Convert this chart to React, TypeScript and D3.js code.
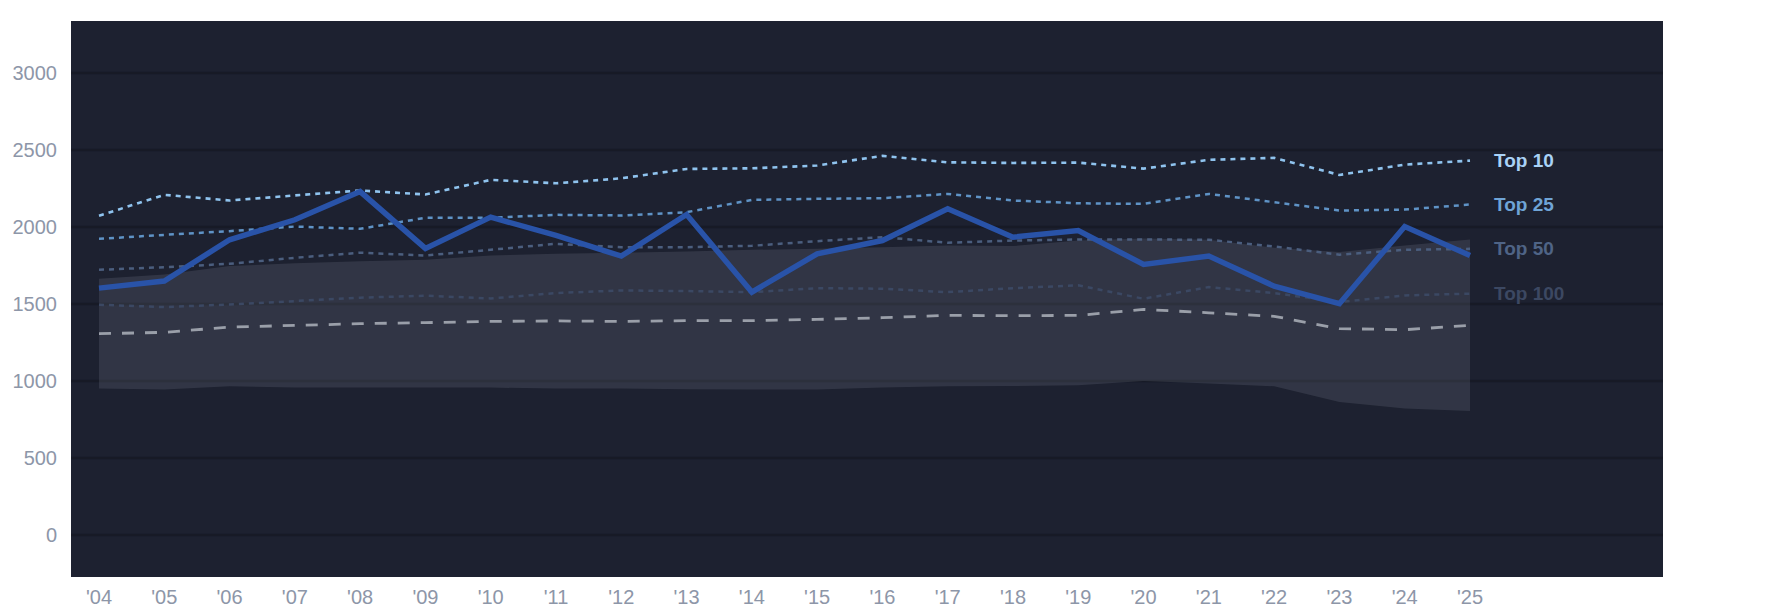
import * as d3 from 'd3'
import { useEffect, useRef } from 'react'

const years = ["'04", "'05", "'06", "'07", "'08", "'09", "'10", "'11", "'12", "'13", "'14", "'15", "'16", "'17", "'18", "'19", "'20", "'21", "'22", "'23", "'24", "'25"]

const mainSeries = [1603, 1649, 1917, 2047, 2230, 1861, 2064, 1945, 1811, 2081, 1577, 1826, 1912, 2118, 1934, 1977, 1757, 1811, 1616, 1502, 2003, 1815]
const top10 = [2073, 2209, 2172, 2205, 2237, 2211, 2306, 2284, 2316, 2377, 2381, 2399, 2462, 2420, 2416, 2418, 2379, 2436, 2449, 2338, 2405, 2431]
const top25 = [1923, 1949, 1973, 2003, 1988, 2060, 2060, 2079, 2075, 2096, 2176, 2183, 2187, 2215, 2172, 2154, 2150, 2215, 2161, 2107, 2113, 2146]
const top50 = [1722, 1739, 1761, 1800, 1833, 1815, 1852, 1891, 1869, 1869, 1878, 1908, 1934, 1898, 1912, 1919, 1919, 1917, 1874, 1820, 1852, 1858]
const top100 = [1495, 1480, 1497, 1519, 1541, 1554, 1536, 1571, 1588, 1584, 1577, 1603, 1599, 1577, 1603, 1621, 1534, 1610, 1571, 1512, 1556, 1567]
const median = [1307, 1316, 1350, 1361, 1372, 1379, 1387, 1390, 1387, 1392, 1392, 1400, 1411, 1426, 1424, 1426, 1465, 1443, 1420, 1340, 1333, 1361]
const bandHigh = [1664, 1692, 1746, 1765, 1778, 1788, 1815, 1826, 1833, 1841, 1852, 1858, 1869, 1880, 1876, 1912, 1925, 1917, 1865, 1837, 1880, 1919]
const bandLow = [951, 944, 966, 957, 957, 957, 957, 951, 951, 947, 945, 945, 957, 966, 968, 972, 1000, 983, 966, 864, 821, 806]

const yTicks = [0, 500, 1000, 1500, 2000, 2500, 3000]

const tiers = [
  { label: 'Top 10', values: top10, line: '#8fc3ee', text: '#a9d2f6', dash: '5 5', width: 2.6 },
  { label: 'Top 25', values: top25, line: '#5f93c6', text: '#6fa4d6', dash: '5 5', width: 2.5 },
  { label: 'Top 50', values: top50, line: '#4b5e7e', text: '#4f6486', dash: '5 5', width: 2.5 },
  { label: 'Top 100', values: top100, line: '#3b4863', text: '#3c4862', dash: '5 5', width: 2.5 },
]

export default function App() {
  const ref = useRef<SVGSVGElement | null>(null)

  useEffect(() => {
    if (!ref.current) return
    const width = 1785
    const height = 614
    const plot = { left: 71, right: 1663, top: 21, bottom: 577 }
    const font = "'Liberation Sans', Arial, sans-serif"

    const svg = d3.select(ref.current)
    svg.selectAll('*').remove()
    svg.attr('width', width).attr('height', height)

    const x = d3.scalePoint<string>().domain(years).range([99, 1470])
    const y = d3.scaleLinear().domain([0, 3000]).range([535, 73])

    svg.append('rect')
      .attr('x', plot.left).attr('y', plot.top)
      .attr('width', plot.right - plot.left).attr('height', plot.bottom - plot.top)
      .attr('fill', '#1d2130')

    // grid
    svg.append('g')
      .selectAll('line')
      .data(yTicks)
      .join('line')
      .attr('x1', plot.left).attr('x2', plot.right)
      .attr('y1', d => y(d)).attr('y2', d => y(d))
      .attr('stroke', '#171a26')
      .attr('stroke-width', 2.5)

    // y labels
    svg.append('g')
      .selectAll('text')
      .data(yTicks)
      .join('text')
      .attr('x', 57).attr('y', d => y(d))
      .attr('text-anchor', 'end')
      .attr('dominant-baseline', 'central')
      .attr('font-family', font).attr('font-size', 20)
      .attr('fill', '#8d96a8')
      .text(d => d)

    // x labels
    svg.append('g')
      .selectAll('text')
      .data(years)
      .join('text')
      .attr('x', d => x(d)!).attr('y', 597)
      .attr('text-anchor', 'middle')
      .attr('dominant-baseline', 'central')
      .attr('font-family', font).attr('font-size', 20)
      .attr('fill', '#8d96a8')
      .text(d => d)

    const idx = years.map((_, i) => i)

    const band = d3.area<number>()
      .x(i => x(years[i])!)
      .y0(i => y(bandLow[i]))
      .y1(i => y(bandHigh[i]))

    svg.append('path')
      .datum(idx)
      .attr('d', band)
      .attr('fill', '#8a90a0')
      .attr('fill-opacity', 0.19)

    const lineOf = (vals: number[]) => d3.line<number>()
      .x(i => x(years[i])!)
      .y(i => y(vals[i]))(idx)

    svg.append('path')
      .attr('d', lineOf(median))
      .attr('fill', 'none')
      .attr('stroke', '#9a9fa9')
      .attr('stroke-width', 2.8)
      .attr('stroke-dasharray', '12 11')

    const last = years[years.length - 1]
    tiers.slice().reverse().forEach(t => {
      svg.append('path')
        .attr('d', lineOf(t.values))
        .attr('fill', 'none')
        .attr('stroke', t.line)
        .attr('stroke-width', t.width)
        .attr('stroke-dasharray', t.dash)
      svg.append('text')
        .attr('x', x(last)! + 24)
        .attr('y', y(t.values[t.values.length - 1]))
        .attr('dominant-baseline', 'central')
        .attr('font-family', font).attr('font-size', 19).attr('font-weight', 'bold')
        .attr('fill', t.text)
        .text(t.label)
    })

    svg.append('path')
      .attr('d', lineOf(mainSeries))
      .attr('fill', 'none')
      .attr('stroke', '#2953a8')
      .attr('stroke-width', 5.5)
      .attr('stroke-linejoin', 'miter')
  }, [])

  return (
    <div style={{ position: 'absolute', left: 0, top: 0, background: '#fff' }}>
      <svg ref={ref} style={{ display: 'block' }} />
    </div>
  )
}
